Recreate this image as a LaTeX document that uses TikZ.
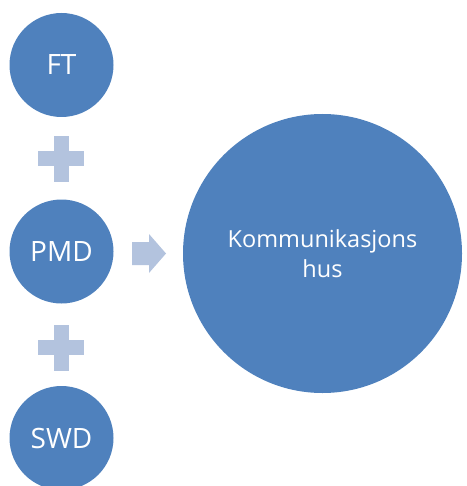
\documentclass[tikz,border=0pt]{standalone}
\usepackage{fontspec}
\setmainfont{Open Sans}
\definecolor{circblue}{HTML}{4F81BD}
\definecolor{lightblue}{HTML}{B3C3DE}
\begin{document}
\begin{tikzpicture}[x=1pt,y=-1pt,
  smallcirc/.style={circle,fill=circblue,draw=none,minimum size=104pt,inner sep=0pt,text=white,font=\fontsize{28}{32}\selectfont},
  bigcirc/.style={circle,fill=circblue,draw=none,minimum size=279pt,inner sep=0pt,text=white,align=center,font=\fontsize{23.5}{30}\selectfont},
  plusfill/.style={fill=lightblue,draw=none}]
\useasboundingbox (0,0) rectangle (466,486);
\clip (0,0) rectangle (466,486);
\node[smallcirc] (ft) at (61.5,65) {FT};
\node[smallcirc] (pmd) at (61.5,251.5) {PMD};
\node[smallcirc] (swd) at (61.5,438) {SWD};
\node[bigcirc] (kh) at (322.5,253.5) {Kommunikasjons\\hus};
\coordinate (p1) at (61,159);
\coordinate (p2) at (61,347.5);
\foreach \p in {p1,p2}{
  \fill[plusfill] ([shift={(-7.5,-23)}]\p) rectangle ([shift={(7.5,23)}]\p);
  \fill[plusfill] ([shift={(-23,-7.5)}]\p) rectangle ([shift={(23,7.5)}]\p);
}
\coordinate (ar) at (132,253.5);
\fill[plusfill] ([shift={(0,-11.5)}]ar) -- ([shift={(17,-11.5)}]ar) -- ([shift={(17,-19.5)}]ar)
  -- ([shift={(34,0)}]ar) -- ([shift={(17,19.5)}]ar) -- ([shift={(17,11.5)}]ar)
  -- ([shift={(0,11.5)}]ar) -- cycle;
\end{tikzpicture}
\end{document}
